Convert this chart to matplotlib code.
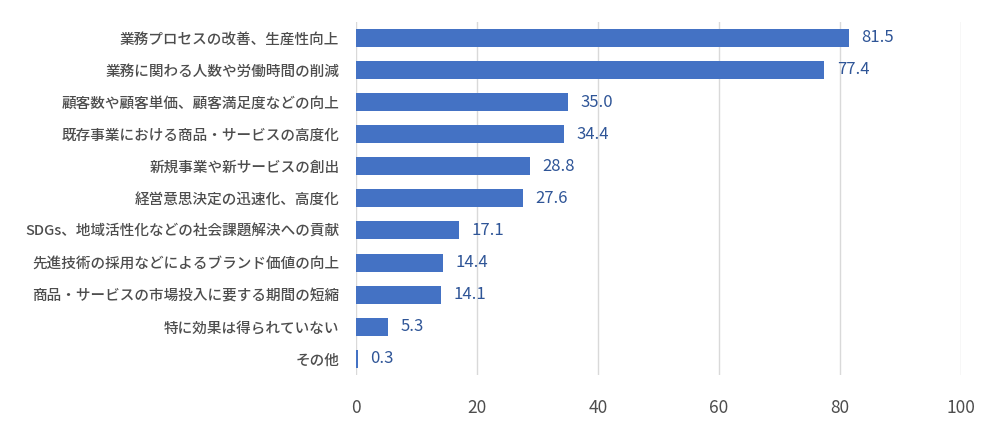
import matplotlib
matplotlib.use("Agg")
import matplotlib.pyplot as plt

plt.rcParams['font.family'] = ['Noto Sans CJK JP', 'DejaVu Sans']

# data (top to bottom)
labels = [
    "業務プロセスの改善、生産性向上",
    "業務に関わる人数や労働時間の削減",
    "顧客数や顧客単価、顧客満足度などの向上",
    "既存事業における商品・サービスの高度化",
    "新規事業や新サービスの創出",
    "経営意思決定の迅速化、高度化",
    "SDGs、地域活性化などの社会課題解決への貢献",
    "先進技術の採用などによるブランド価値の向上",
    "商品・サービスの市場投入に要する期間の短縮",
    "特に効果は得られていない",
    "その他",
]
values = [81.5, 77.4, 35.0, 34.4, 28.8, 27.6, 17.1, 14.4, 14.1, 5.3, 0.3]
xticks = [0, 20, 40, 60, 80, 100]

bar_color = '#4472C4'
label_color = '#2F5597'
text_gray = '#4D4D4D'

fig = plt.figure(figsize=(10, 4.28), dpi=100)
ax = fig.add_axes([0.356, 0.124, 0.605, 0.825])

pos = list(range(len(values)))
ax.barh(pos, values, height=0.56, color=bar_color, zorder=3)
for p, v in zip(pos, values):
    ax.annotate(f"{v:.1f}", (v, p), xytext=(9, 0), textcoords='offset points',
                va='center', ha='left', fontsize=12, color=label_color)

ax.set_ylim(len(values) - 0.5, -0.5)
ax.set_xlim(0, 100)
ax.set_xticks(xticks)
ax.set_yticks(pos)
ax.set_yticklabels(labels, fontsize=10.5, color=text_gray, fontweight='medium')
ax.tick_params(axis='x', labelsize=12.5, colors=text_gray, length=0, pad=17)
ax.tick_params(axis='y', length=0, pad=12)
ax.grid(axis='x', color='#D9D9D9', linewidth=1, zorder=0)
for s in ax.spines.values():
    s.set_visible(False)

plt.savefig("out.png", dpi=100)
